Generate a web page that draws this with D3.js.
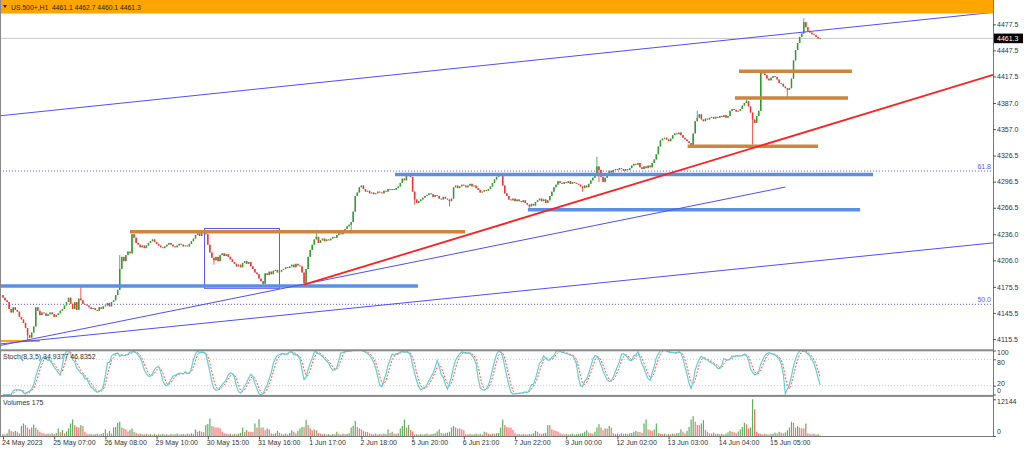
<!DOCTYPE html>
<html>
<head>
<meta charset="utf-8">
<script src="https://cdn.jsdelivr.net/npm/d3@7"></script>
<style>
  html, body { margin: 0; padding: 0; background: #fff; }
  svg { display: block; font-family: "Liberation Sans", Arial, sans-serif; }
  .axis text { fill: #333; font-size: 7px; }
  .axis line { stroke: #555; }
</style>
</head>
<body>
<svg id="chart" width="1024" height="449"></svg>
<script>
// hourly closes, one per bar (24 May 06:00 .. 15 Jun)
const firstOpen = 4166;
const closes = [
  4163, 4160, 4158, 4150, 4146, 4152, 4149, 4147, 4141, 4138,
  4134, 4128, 4120, 4117, 4123, 4130, 4152, 4148, 4143, 4146,
  4145, 4142, 4144, 4146, 4144, 4141, 4143, 4145, 4148, 4150,
  4154, 4158, 4163, 4156, 4150, 4158, 4149, 4162, 4160, 4156,
  4155, 4154, 4152, 4150, 4151, 4149, 4148, 4152, 4150, 4153,
  4154, 4157, 4153, 4158, 4160, 4166, 4172, 4196, 4210, 4205,
  4212, 4216, 4214, 4236, 4232, 4226, 4224, 4221, 4223, 4220,
  4223, 4226, 4228, 4230, 4227, 4225, 4223, 4221, 4220, 4222,
  4224, 4226, 4224, 4222, 4221, 4223, 4225, 4224, 4222, 4223,
  4222, 4225, 4228, 4231, 4235, 4237, 4234, 4238, 4239, 4236,
  4224, 4215, 4209, 4206, 4210, 4205, 4212, 4214, 4211, 4213,
  4210, 4207, 4204, 4202, 4199, 4201, 4198, 4203, 4205, 4202,
  4204, 4199, 4196, 4192, 4190, 4185, 4182, 4179, 4191, 4189,
  4193, 4190, 4194, 4195, 4192, 4193, 4195, 4196, 4198, 4197,
  4199, 4201, 4198, 4202, 4200, 4199, 4192, 4180, 4196, 4210,
  4218, 4224, 4230, 4233, 4226, 4229, 4231, 4228, 4230, 4229,
  4231, 4233, 4232, 4235, 4237, 4236, 4240, 4242, 4245, 4247,
  4250, 4262, 4280, 4284, 4290, 4292, 4288, 4285, 4286, 4283,
  4284, 4282, 4283, 4285, 4284, 4283, 4286, 4285, 4288, 4287,
  4288, 4287, 4289, 4291, 4295, 4300, 4298, 4303, 4305, 4302,
  4285, 4276, 4272, 4274, 4276, 4278, 4280, 4281, 4283, 4282,
  4279, 4281, 4280, 4277, 4276, 4279, 4277, 4276, 4274, 4277,
  4290, 4292, 4289, 4291, 4293, 4292, 4290, 4292, 4294, 4291,
  4292, 4289, 4287, 4284, 4285, 4287, 4286, 4288, 4291, 4295,
  4299, 4302, 4304, 4303, 4292, 4283, 4280, 4276, 4275, 4277,
  4274, 4276, 4274, 4273, 4275, 4272, 4270, 4268, 4271, 4269,
  4273, 4275, 4277, 4274, 4276, 4272, 4275, 4280, 4285, 4290,
  4293, 4297, 4295, 4294, 4296, 4295, 4297, 4294, 4296, 4295,
  4294, 4293, 4291, 4289, 4292, 4290, 4294, 4298, 4301, 4306,
  4314, 4310, 4302, 4296, 4301, 4305, 4309, 4307, 4310, 4311,
  4310, 4312, 4311, 4309, 4311, 4310, 4312, 4315, 4317, 4316,
  4318, 4313, 4311, 4314, 4312, 4315, 4313, 4318, 4322, 4328,
  4337, 4344, 4346, 4347, 4345, 4343, 4346, 4350, 4352, 4351,
  4353, 4350, 4347, 4345, 4343, 4341, 4338, 4352, 4366, 4370,
  4374, 4368, 4366, 4369, 4368, 4370, 4371, 4369, 4371, 4370,
  4372, 4371, 4373, 4370, 4372, 4378, 4380, 4379, 4377, 4378,
  4380, 4384, 4387, 4389, 4383, 4376, 4368, 4364, 4372, 4378,
  4422, 4421, 4419, 4415, 4413, 4416, 4418, 4417, 4414, 4410,
  4409, 4406, 4404, 4402, 4404, 4415, 4436, 4448, 4456, 4463,
  4467, 4480, 4474, 4470, 4468, 4466, 4465, 4463, 4461.1, 4461.3
];

// visible long shadows: [bar, price]
const wickHighs = [[38, 4175], [57, 4212], [153, 4239], [198, 4306.5], [290, 4325], [339, 4378], [363, 4394], [391, 4484.5]];
const wickLows = [[12, 4113], [103, 4201], [127, 4177.6], [147, 4178], [170, 4237], [201, 4270], [218, 4268], [257, 4266], [283, 4285], [291, 4296], [336, 4336], [366, 4339], [383, 4393]];

const volumes = [
  700, 500, 900, 2200, 1700, 1400, 1700, 1400, 900, 3300,
  4150, 3600, 2800, 2200, 2800, 3800, 2700, 2000, 1400, 1000,
  900, 700, 800, 600, 900, 600, 1000, 2500, 1300, 2000,
  900, 1500, 2500, 4150, 5470, 3600, 3000, 2800, 3600, 3300,
  1400, 800, 600, 700, 500, 600, 800, 500, 700, 1000,
  2200, 900, 1700, 800, 2800, 3000, 4400, 4700, 2800, 2500,
  2200, 1500, 2000, 2500, 1400, 1000, 700, 800, 600, 500,
  700, 500, 600, 400, 700, 500, 600, 500, 700, 500,
  600, 400, 700, 500, 600, 800, 500, 600, 700, 500,
  800, 600, 900, 700, 2200, 1400, 1700, 1400, 1300, 3600,
  4000, 5800, 3300, 3000, 2800, 2800, 2500, 1400, 900, 700,
  600, 800, 500, 700, 600, 800, 1000, 2800, 1300, 2000,
  1400, 1400, 1400, 4150, 2800, 5600, 2800, 2800, 2000, 2500,
  2200, 900, 700, 900, 1700, 1100, 700, 600, 800, 500,
  1000, 1900, 1400, 900, 1700, 2500, 3000, 3000, 5250, 3600,
  2500, 1800, 2200, 1900, 1000, 800, 600, 700, 500, 600,
  400, 700, 600, 1400, 700, 500, 800, 600, 700, 900,
  2800, 3300, 5000, 3000, 2500, 2200, 1700, 1400, 1300, 900,
  700, 600, 800, 500, 700, 600, 800, 700, 2200, 1000,
  1400, 800, 700, 900, 2500, 3300, 5470, 2800, 3600, 2000,
  1500, 500, 600, 500, 700, 500, 600, 800, 500, 600,
  700, 900, 1500, 2200, 1000, 800, 900, 1100, 1400, 2800,
  3300, 2800, 2500, 2500, 2200, 1900, 600, 500, 700, 500,
  600, 800, 600, 700, 500, 1400, 1200, 700, 600, 800,
  700, 900, 1000, 2800, 5470, 3600, 3000, 2800, 2800, 2000,
  900, 600, 700, 500, 700, 600, 500, 700, 600, 900,
  1700, 1400, 800, 700, 900, 1000, 3600, 3600, 2200, 1900,
  1700, 1400, 900, 600, 500, 700, 500, 600, 800, 500,
  600, 700, 800, 900, 1400, 1900, 1100, 900, 800, 1400,
  2800, 3900, 2800, 1900, 2500, 2500, 3300, 2800, 900, 700,
  800, 600, 900, 700, 800, 600, 900, 1000, 1400, 1700,
  1400, 1300, 1000, 4150, 5470, 2200, 1900, 1700, 2200, 4150,
  1000, 700, 600, 800, 500, 700, 600, 800, 700, 900,
  1000, 2200, 1400, 900, 1700, 3000, 5470, 6560, 4700, 3600,
  3600, 4150, 5250, 2000, 1400, 900, 800, 1100, 700, 800,
  600, 700, 500, 800, 1200, 1700, 1400, 1200, 900, 1500,
  2200, 3000, 4400, 3900, 2500, 2800, 12144, 8860, 1400, 900,
  700, 600, 800, 600, 500, 700, 800, 1100, 900, 1400,
  1100, 900, 1200, 1900, 2800, 4700, 4400, 2800, 3300, 2800,
  2500, 2500, 4100, 900, 700, 600, 800, 500, 600, 175
];

const timeLabels = ["24 May 2023", "25 May 07:00", "26 May 08:00", "29 May 10:00", "30 May 15:00",
  "31 May 16:00", "1 Jun 17:00", "2 Jun 18:00", "5 Jun 20:00", "6 Jun 21:00", "7 Jun 22:00",
  "9 Jun 00:00", "12 Jun 02:00", "13 Jun 03:00", "14 Jun 04:00", "15 Jun 05:00"];
const barsPerLabel = 25;
const priceTicks = [4477.5, 4447.5, 4417.5, 4387.0, 4357.0, 4326.5, 4296.5, 4266.5, 4236.0, 4206.0, 4175.5, 4145.5, 4115.5];
const stochTicks = [100, 80, 20, 0];
const volumeTicks = [12144, 0];

// drawn objects, in [bar, price]
const upperChannel = [[0, 4372.6], [399, 4470.5]];
const lowerChannel = [[12, 4113], [399, 4205.8]];
const steepLine = [[12, 4114.4], [382, 4290.3]];
const redTrend = [[147, 4178], [399, 4358.8]];
const boxRange = [[98.4, 4242.6], [135, 4173.8]];
const blueLevels = [[-1.5, 202.6, 4176.5], [191.4, 424.8, 4304.7], [256.3, 418.5, 4264.2]];
const orangeLevels = [[62, 225.6, 4238.9], [334.3, 398, 4337.1], [357.4, 412.6, 4392.7], [359.4, 414.5, 4423.4]];
const lowMarker = [-1.5, 18, 4113.3];
const fibLevels = [["61.8", 4308.7], ["50.0", 4155.4]];
const header = "US.500+,H1  4461.1 4462.7 4460.1 4461.3";
const stochTitle = "Stoch(8,3,5) 34.9377 46.8352";
const volumeTitle = "Volumes 175";
const lastPrice = 4461.3;

(function () {
  const svg = d3.select("#chart");
  const axisX = 993;
  const mainBottom = 349.5;

  const x = d3.scaleLinear().domain([0, closes.length - 1]).range([3, 3 + 2.048 * (closes.length - 1)]);
  const y = d3.scaleLinear().domain([4115.5, 4477.5]).range([339, 24.3]);
  const yStoch = d3.scaleLinear().domain([0, 100]).range([394.5, 350.5]);
  const yVol = d3.scaleLinear().domain([0, 12144]).range([436, 399.3]);

  // bars
  const bars = closes.map((c, i) => {
    const o = i === 0 ? firstOpen : closes[i - 1];
    return { i, o, c, h: Math.max(o, c), l: Math.min(o, c), v: volumes[i] };
  });
  wickHighs.forEach(([i, p]) => { bars[i].h = Math.max(bars[i].h, p); });
  wickLows.forEach(([i, p]) => { bars[i].l = Math.min(bars[i].l, p); });

  // stochastic 8,3,5 from the bars
  const num = [], den = [], main = [], signal = [];
  bars.forEach((b, i) => {
    const win = bars.slice(Math.max(0, i - 7), i + 1);
    const lo = d3.min(win, d => d.l), hi = d3.max(win, d => d.h);
    num.push(b.c - lo);
    den.push(hi - lo);
    const s0 = Math.max(0, i - 4);
    const dn = d3.sum(den.slice(s0, i + 1));
    main.push(dn === 0 ? 50 : 100 * d3.sum(num.slice(s0, i + 1)) / dn);
    signal.push(d3.mean(main.slice(Math.max(0, i - 2), i + 1)));
  });

  svg.append("defs").append("clipPath").attr("id", "clip-main")
    .append("rect").attr("x", 0).attr("y", 0).attr("width", axisX).attr("height", mainBottom);

  const main_g = svg.append("g").attr("clip-path", "url(#clip-main)");

  // fibo levels
  fibLevels.forEach(([label, p]) => {
    main_g.append("line")
      .attr("x1", 0).attr("x2", axisX).attr("y1", y(p)).attr("y2", y(p))
      .attr("stroke", "#5a5aff").attr("stroke-width", 1).attr("stroke-dasharray", "1,2");
    main_g.append("text")
      .attr("x", axisX - 2).attr("y", y(p) - 2).attr("text-anchor", "end")
      .attr("font-size", 7).attr("fill", "#5a5aff").text(label);
  });

  // current price line
  main_g.append("line")
    .attr("x1", 0).attr("x2", axisX).attr("y1", y(lastPrice)).attr("y2", y(lastPrice))
    .attr("stroke", "#c8c8c8").attr("stroke-width", 1);

  // candles
  const candle = main_g.append("g").selectAll("g").data(bars).enter().append("g");
  candle.append("line")
    .attr("x1", d => x(d.i)).attr("x2", d => x(d.i))
    .attr("y1", d => y(d.h)).attr("y2", d => y(d.l))
    .attr("stroke", d => d.c >= d.o ? "#2f9a2f" : "#f23030").attr("stroke-width", 0.8);
  candle.append("rect")
    .attr("x", d => x(d.i) - 0.75).attr("width", 1.5)
    .attr("y", d => y(Math.max(d.o, d.c)))
    .attr("height", d => Math.max(0.8, Math.abs(y(d.o) - y(d.c))))
    .attr("fill", d => d.c >= d.o ? "#2f9a2f" : "#f23030");

  // helper: value of a line through two anchors at bar t
  function at(pts, t) {
    const [[t1, p1], [t2, p2]] = pts;
    return p1 + (p2 - p1) * (t - t1) / (t2 - t1);
  }
  function drawLine(pts, t0, t1, color, width) {
    main_g.append("line")
      .attr("x1", x(t0)).attr("y1", y(at(pts, t0)))
      .attr("x2", x(t1)).attr("y2", y(at(pts, t1)))
      .attr("stroke", color).attr("stroke-width", width);
  }
  const tLeft = x.invert(0), tRight = x.invert(axisX);

  // box
  main_g.append("rect")
    .attr("x", x(boxRange[0][0])).attr("y", y(boxRange[0][1]))
    .attr("width", x(boxRange[1][0]) - x(boxRange[0][0]))
    .attr("height", y(boxRange[1][1]) - y(boxRange[0][1]))
    .attr("fill", "none").attr("stroke", "#5a5af5").attr("stroke-width", 1);

  // horizontal levels
  blueLevels.forEach(([a, b, p]) => {
    main_g.append("line").attr("x1", x(a)).attr("x2", x(b)).attr("y1", y(p)).attr("y2", y(p))
      .attr("stroke", "#5b8fe6").attr("stroke-width", 3.5);
  });
  orangeLevels.forEach(([a, b, p]) => {
    main_g.append("line").attr("x1", x(a)).attr("x2", x(b)).attr("y1", y(p)).attr("y2", y(p))
      .attr("stroke", "#cd853f").attr("stroke-width", 3.5);
  });
  main_g.append("line")
    .attr("x1", x(lowMarker[0])).attr("x2", x(lowMarker[1]))
    .attr("y1", y(lowMarker[2])).attr("y2", y(lowMarker[2]))
    .attr("stroke", "#ffa500").attr("stroke-width", 2);

  // trend lines
  drawLine(upperChannel, tLeft, tRight, "#5050f0", 1);
  drawLine(lowerChannel, tLeft, tRight, "#5050f0", 1);
  drawLine(steepLine, tLeft, steepLine[1][0], "#5050f0", 1);
  drawLine(redTrend, redTrend[0][0], tRight, "#ff2020", 1.8);

  // header band
  svg.append("rect").attr("x", 0).attr("y", 0).attr("width", axisX).attr("height", 13.5).attr("fill", "#ffa500");
  svg.append("path").attr("d", "M3,5 L7,5 L5,8 Z").attr("fill", "#222");
  svg.append("text").attr("x", 11).attr("y", 9.5).attr("font-size", 6.8).attr("fill", "#222")
    .attr("xml:space", "preserve").style("white-space", "pre").text(header);

  // stochastic panel
  stochTicks.filter(v => v === 80 || v === 20).forEach(v => {
    svg.append("line").attr("x1", 0).attr("x2", axisX).attr("y1", yStoch(v)).attr("y2", yStoch(v))
      .attr("stroke", "#c8c8c8").attr("stroke-dasharray", "1,2");
  });
  const stochLine = d3.line().x((d, i) => x(i)).y(d => yStoch(d));
  svg.append("path").datum(signal).attr("d", stochLine)
    .attr("fill", "none").attr("stroke", "#ff5050").attr("stroke-width", 1).attr("stroke-dasharray", "2,1.5");
  svg.append("path").datum(main).attr("d", stochLine)
    .attr("fill", "none").attr("stroke", "#62d0d0").attr("stroke-width", 1.2);
  svg.append("text").attr("x", 3).attr("y", 358.5).attr("font-size", 7).attr("fill", "#333").text(stochTitle);

  // volumes panel
  svg.append("g").selectAll("rect").data(bars).enter().append("rect")
    .attr("x", d => x(d.i) - 0.6).attr("width", 1.2)
    .attr("y", d => yVol(d.v)).attr("height", d => yVol(0) - yVol(d.v))
    .attr("fill", (d, i) => i > 0 && d.v > volumes[i - 1] ? "#3fa33f" : "#f25a5a")
    .attr("opacity", 0.85);
  svg.append("text").attr("x", 3).attr("y", 404.5).attr("font-size", 7).attr("fill", "#333").text(volumeTitle);

  // frame and separators
  svg.append("line").attr("x1", 0.5).attr("x2", 0.5).attr("y1", 0).attr("y2", 436).attr("stroke", "#888");
  svg.append("line").attr("x1", axisX + 0.5).attr("x2", axisX + 0.5).attr("y1", 0).attr("y2", 436.5).attr("stroke", "#777");
  svg.append("rect").attr("x", 0).attr("y", 349.3).attr("width", axisX + 1).attr("height", 2).attr("fill", "#888");
  svg.append("rect").attr("x", 0).attr("y", 394.9).attr("width", axisX + 1).attr("height", 2).attr("fill", "#888");
  svg.append("line").attr("x1", 0).attr("x2", axisX + 1).attr("y1", 436.5).attr("y2", 436.5).attr("stroke", "#777");

  // axes
  const priceAxis = svg.append("g").attr("class", "axis").attr("transform", `translate(${axisX},0)`)
    .call(d3.axisRight(y).tickValues(priceTicks).tickFormat(d3.format(".1f")).tickSize(3).tickPadding(1));
  priceAxis.select(".domain").remove();

  // stoch labels sit close together as in the original; nudge them apart slightly
  const stochAxis = svg.append("g").attr("class", "axis").attr("transform", `translate(${axisX},0)`)
    .call(d3.axisRight(yStoch).tickValues(stochTicks).tickSize(3).tickPadding(1));
  stochAxis.select(".domain").remove();
  stochAxis.selectAll("text").attr("font-size", 6.3)
    .attr("dy", d => d === 100 ? "0.55em" : d === 80 ? "0.7em" : d === 20 ? "-0.05em" : "-0.25em");

  const volAxis = svg.append("g").attr("class", "axis").attr("transform", `translate(${axisX},0)`)
    .call(d3.axisRight(yVol).tickValues(volumeTicks).tickFormat(d3.format("d")).tickSize(3).tickPadding(1));
  volAxis.select(".domain").remove();
  volAxis.selectAll("text").attr("dy", d => d === 0 ? "-0.3em" : "0.65em");

  const timeAxis = svg.append("g").attr("class", "axis").attr("transform", "translate(0,436.5)")
    .call(d3.axisBottom(x).tickValues(timeLabels.map((d, k) => k * barsPerLabel))
      .tickFormat((d, k) => timeLabels[k]).tickSize(3).tickPadding(1));
  timeAxis.select(".domain").remove();
  timeAxis.selectAll("text").attr("text-anchor", "start").attr("x", -1.5).attr("font-size", 6.6);

  // last price tag
  svg.append("rect").attr("x", axisX + 1).attr("y", y(lastPrice) - 4.8).attr("width", 29).attr("height", 9.6).attr("fill", "#000");
  svg.append("text").attr("x", axisX + 4).attr("y", y(lastPrice) + 2.5).attr("font-size", 7).attr("fill", "#fff")
    .text(d3.format(".1f")(lastPrice));
})();
</script>
</body>
</html>
